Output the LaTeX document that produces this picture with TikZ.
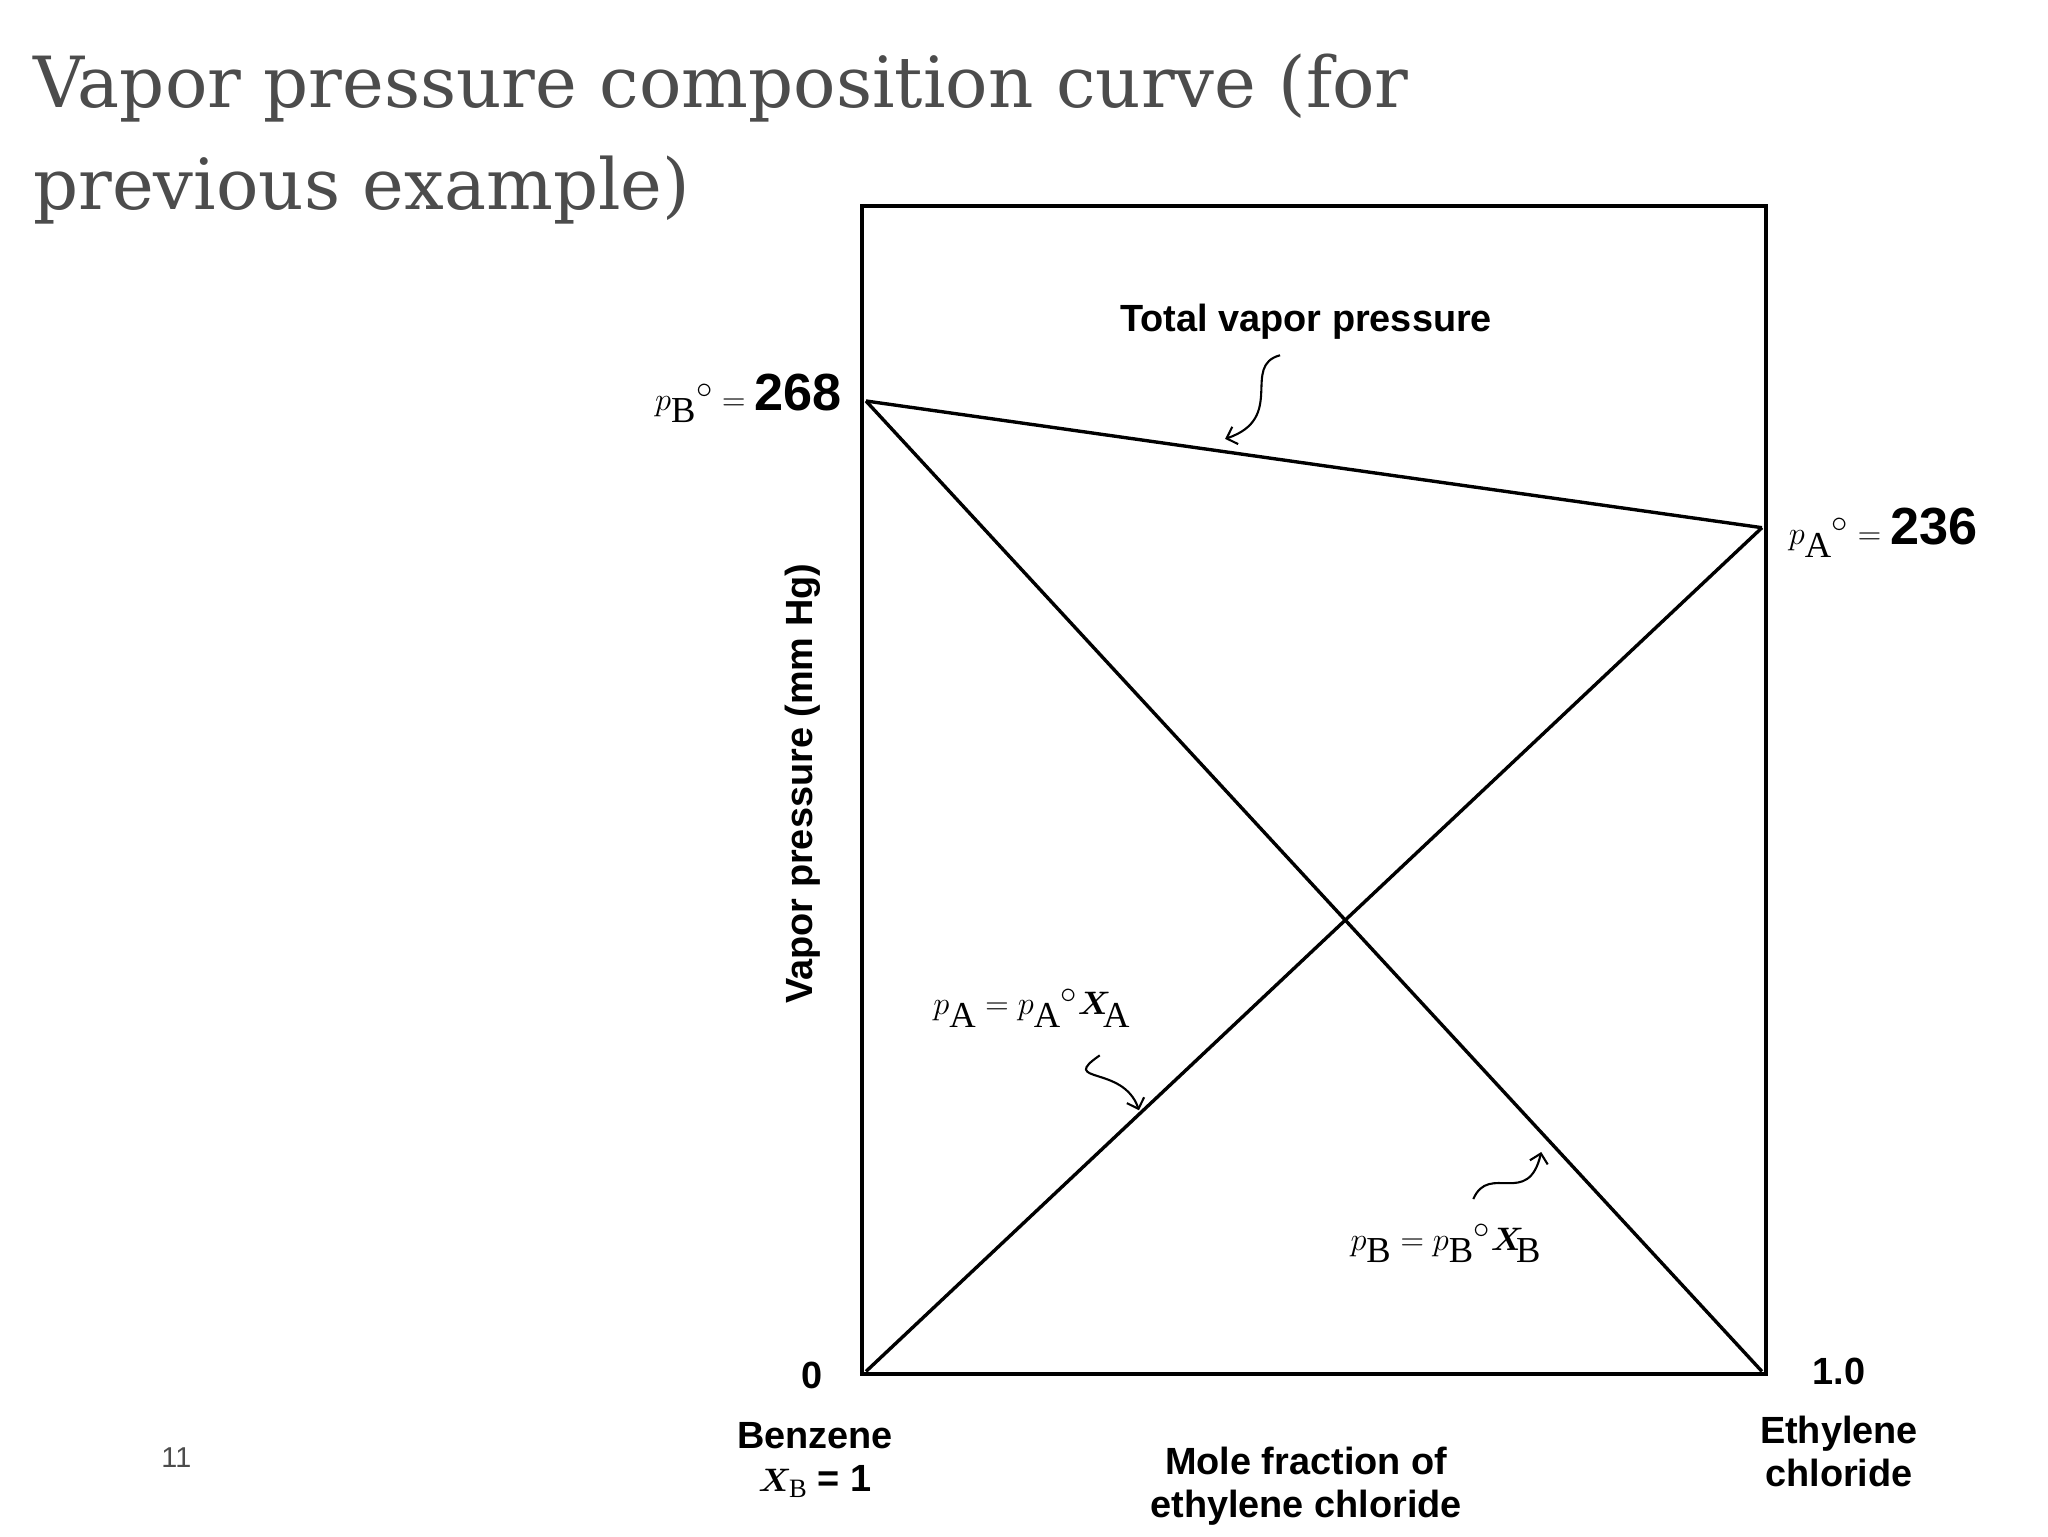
\documentclass[tikz,border=0pt]{standalone}
\usepackage{amsmath}
\usepackage{bm}
\usepackage{fontspec}
\setmainfont{Liberation Serif}
\setsansfont{Liberation Sans}
\newfontfamily\titlefont{DejaVu Serif}
\usetikzlibrary{arrows.meta}
\begin{document}
\begin{tikzpicture}[x=1pt,y=-1pt,
  lab/.style={font=\sffamily\bfseries\fontsize{29}{33}\selectfont,align=center},
  mth/.style={font=\fontsize{40}{44}\selectfont},
  ln/.style={line width=2.6pt},
  sq/.style={line width=1.6pt,-{Straight Barb[length=7pt]}}]
\useasboundingbox (0,0) rectangle (1568,1176);
\node[anchor=north west,align=left,text=black!70,font=\titlefont\fontsize{54}{78}\selectfont] (title) at (22,38) {Vapor pressure composition curve (for\\previous example)};
\draw[line width=3pt] (660,158) rectangle (1352,1052);
\coordinate (b0) at (663,307);
\coordinate (a0) at (1349,404);
\coordinate (bz) at (1349,1050);
\coordinate (az) at (663,1050);
\draw[ln] (b0) -- (a0);
\draw[ln] (b0) -- (bz);
\draw[ln] (az) -- (a0);
\node[lab] (tot) at (1000,246) {Total vapor pressure};
\coordinate (t1) at (980,272);
\coordinate (t2) at (938,336);
\draw[sq] (t1) .. controls (950,280) and (985,320) .. (t2);
\node[mth,anchor=east] (pb0) at (648,305) {$p_{\mathrm{B}}{}^\circ = \textsf{\textbf{268}}$};
\node[mth,anchor=west] (pa0) at (1366,408) {$p_{\mathrm{A}}{}^\circ = \textsf{\textbf{236}}$};
\node[mth] (pa) at (790,772) {$p_{\mathrm{A}} = p_{\mathrm{A}}{}^\circ \bm{X}_{\!\mathrm{A}}$};
\coordinate (s1) at (842,808);
\coordinate (s2) at (872,850);
\draw[sq] (s1) .. controls (810,830) and (860,815) .. (s2);
\node[mth] (pb) at (1107,952) {$p_{\mathrm{B}} = p_{\mathrm{B}}{}^\circ \bm{X}_{\!\mathrm{B}}$};
\coordinate (r1) at (1128,918);
\coordinate (r2) at (1180,882);
\draw[sq] (r1) .. controls (1140,890) and (1170,925) .. (r2);
\node[lab,rotate=90] (ylab) at (615,600) {Vapor pressure (mm Hg)};
\node[lab] (zero) at (622,1053) {0};
\node[lab] (one) at (1408,1050) {1.0};
\node[lab] (benz) at (624,1118) {Benzene\\$\bm{X}_{\mathrm{B}}$ = 1};
\node[lab] (eth) at (1408,1111) {Ethylene\\chloride};
\node[lab] (mole) at (1000,1138) {Mole fraction of\\ethylene chloride};
\node[font=\sffamily\fontsize{22}{26}\selectfont,text=black!70] (num) at (135,1116) {11};
\end{tikzpicture}
\end{document}
